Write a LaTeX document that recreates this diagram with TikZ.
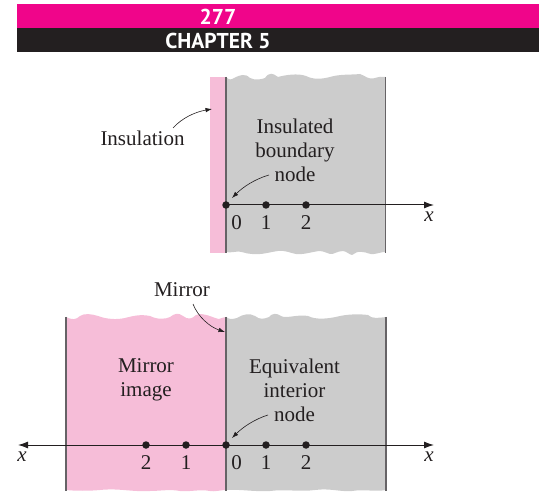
\documentclass[tikz,border=0pt]{standalone}
\usepackage{fontspec}
\setmainfont{Liberation Serif}
\newfontfamily\headfont{PT Sans}
\usetikzlibrary{arrows.meta}
\definecolor{barpink}{HTML}{F0058A}
\definecolor{barblack}{HTML}{231F20}
\definecolor{softpink}{HTML}{F6BDD8}
\definecolor{softgray}{HTML}{CCCCCC}
\definecolor{wallline}{HTML}{666366}
\definecolor{ink}{HTML}{231F20}
\tikzset{
  lbl/.style={font=\fontsize{21}{24}\selectfont, text=ink, inner sep=0pt, align=center},
  num/.style={font=\fontsize{21}{24}\selectfont, text=ink, inner sep=0pt},
  axisvar/.style={font=\fontsize{21}{24}\selectfont\itshape, text=ink, inner sep=0pt},
  head/.style={font=\headfont\bfseries\fontsize{21.5}{24}\selectfont, text=white, inner sep=0pt},
  wall/.style={draw=wallline, line width=1.3pt},
  axisline/.style={draw=ink, line width=1pt, -{Latex[length=10pt,width=7pt]}},
  leader/.style={draw=ink, line width=0.6pt, -{Latex[length=6.5pt,width=4.5pt]}},
  dot/.style={circle, fill=ink, inner sep=0pt, minimum size=7.5pt},
}
\begin{document}
\begin{tikzpicture}[x=1pt,y=-1pt]
\useasboundingbox (0,0) rectangle (539,492);
% header
\fill[barpink] (17,4) rectangle (539,28);
\fill[barblack] (17,28) rectangle (539,52);
\node[head] (pg) at (218,17) {277};
\node[head] (ch) at (218,41) {CHAPTER 5};
% top figure
\fill[softpink] (210,77) rectangle (226,253);
\fill[softgray] (226,77) .. controls (229,80) and (231,80) .. (234,78)
  .. controls (240,75) and (245,73) .. (250,78)
  .. controls (256,81) and (262,79) .. (265,78)
  .. controls (269,72) and (273,73) .. (278,77)
  .. controls (285,75) and (298,73) .. (306,76)
  .. controls (314,80) and (322,79) .. (330,77)
  .. controls (340,74) and (350,75) .. (360,74)
  .. controls (366,76) and (368,80) .. (375,78)
  .. controls (379,77) and (382,76) .. (385,77)
  -- (385,252)
  .. controls (380,252) and (378,254) .. (374,254)
  .. controls (370,255) and (367,252) .. (362,252)
  .. controls (358,251) and (355,253) .. (352,255)
  .. controls (350,255) and (346,251) .. (343,251)
  .. controls (337,251) and (333,255) .. (330,254)
  .. controls (326,253) and (324,251) .. (319,251)
  .. controls (312,252) and (302,255) .. (296,254)
  .. controls (290,253) and (285,250) .. (278,251)
  .. controls (270,252) and (262,255) .. (252,254)
  .. controls (245,254) and (240,250) .. (234,252)
  .. controls (231,253) and (228,252) .. (226,252) -- cycle;
\coordinate (w1t) at (226,77); \coordinate (w1b) at (226,253);
\coordinate (w2t) at (385.5,77); \coordinate (w2b) at (385.5,253);
\draw[wall] (w1t) -- (w1b);
\draw[wall] (w2t) -- (w2b);
\node[dot] (a0) at (226,205) {};
\node[dot] (a1) at (266,205) {};
\node[dot] (a2) at (306,205) {};
\coordinate (aend) at (434,205);
\draw[axisline] (a0.center) -- (aend);
\node[num] (a0l) at (236.5,222.5) {0};
\node[num] (a1l) at (266,222.5) {1};
\node[num] (a2l) at (306,222.5) {2};
\node[axisvar] (ax) at (429,217) {x};
\node[lbl] (ins) at (142.5,138.5) {Insulation};
\coordinate (insend) at (212,109);
\draw[leader] (173,128) .. controls (182,118) and (195,112) .. (insend);
\node[lbl] (ibn) at (295,150) {Insulated\\boundary\\node};
\draw[leader] (269,175) .. controls (255,179) and (243,187) .. (232,198);
% bottom figure
\fill[softpink] (66,317) .. controls (72,320) and (76,320) .. (80,316)
  .. controls (84,313) and (92,314) .. (98,316)
  .. controls (106,319) and (116,320) .. (125,318)
  .. controls (133,316) and (140,314) .. (150,316)
  .. controls (158,320) and (166,319) .. (170,317)
  .. controls (174,314) and (178,312) .. (183,316)
  .. controls (188,320) and (192,319) .. (196,315)
  .. controls (204,312) and (213,318) .. (219,319)
  .. controls (222,318) and (224,317) .. (226,317)
  -- (226,490)
  .. controls (220,490) and (215,492) .. (210,491)
  .. controls (200,489) and (190,492) .. (180,491)
  .. controls (170,489) and (160,491) .. (150,491)
  .. controls (130,492) and (120,488) .. (100,490)
  .. controls (90,491) and (75,491) .. (66,490) -- cycle;
\fill[softgray] (226,317) .. controls (230,320) and (233,319) .. (237,318)
  .. controls (243,314) and (250,313) .. (255,316)
  .. controls (260,320) and (264,319) .. (269,317)
  .. controls (272,313) and (277,313) .. (281,316)
  .. controls (286,319) and (298,314) .. (308,316)
  .. controls (316,320) and (328,319) .. (340,316)
  .. controls (350,314) and (360,314) .. (368,315)
  .. controls (372,319) and (378,318) .. (386,317)
  -- (386,490)
  .. controls (375,492) and (365,489) .. (352,491)
  .. controls (340,492) and (330,488) .. (315,490)
  .. controls (300,492) and (285,489) .. (270,491)
  .. controls (255,492) and (240,489) .. (226,490) -- cycle;
\coordinate (m0t) at (66,317); \coordinate (m0b) at (66,491);
\coordinate (m1t) at (226,317); \coordinate (m1b) at (226,491);
\coordinate (m2t) at (386,317); \coordinate (m2b) at (386,491);
\draw[wall] (m0t) -- (m0b);
\draw[wall] (m1t) -- (m1b);
\draw[wall] (m2t) -- (m2b);
\node[dot] (b0) at (226,445) {};
\node[dot] (b1) at (266,445) {};
\node[dot] (b2) at (306,445) {};
\node[dot] (c1) at (186,445) {};
\node[dot] (c2) at (146,445) {};
\coordinate (bl) at (18,445);
\coordinate (br) at (434,445);
\draw[axisline] (b0.center) -- (br);
\draw[axisline] (b0.center) -- (bl);
\node[num] (b0l) at (236.5,462.5) {0};
\node[num] (b1l) at (266,462.5) {1};
\node[num] (b2l) at (306,462.5) {2};
\node[num] (c1l) at (186,462.5) {1};
\node[num] (c2l) at (146,462.5) {2};
\node[axisvar] (bxr) at (429,457) {x};
\node[axisvar] (bxl) at (22,457) {x};
\node[lbl] (mir) at (182,290) {Mirror};
\draw[leader] (193,304) .. controls (198,317) and (210,327) .. (225,332);
\node[lbl] (mim) at (146,380) {Mirror\\image};
\node[lbl] (eq) at (294.5,390) {Equivalent\\interior\\node};
\draw[leader] (268,415) .. controls (255,419) and (243,427) .. (232,438);
\end{tikzpicture}
\end{document}
